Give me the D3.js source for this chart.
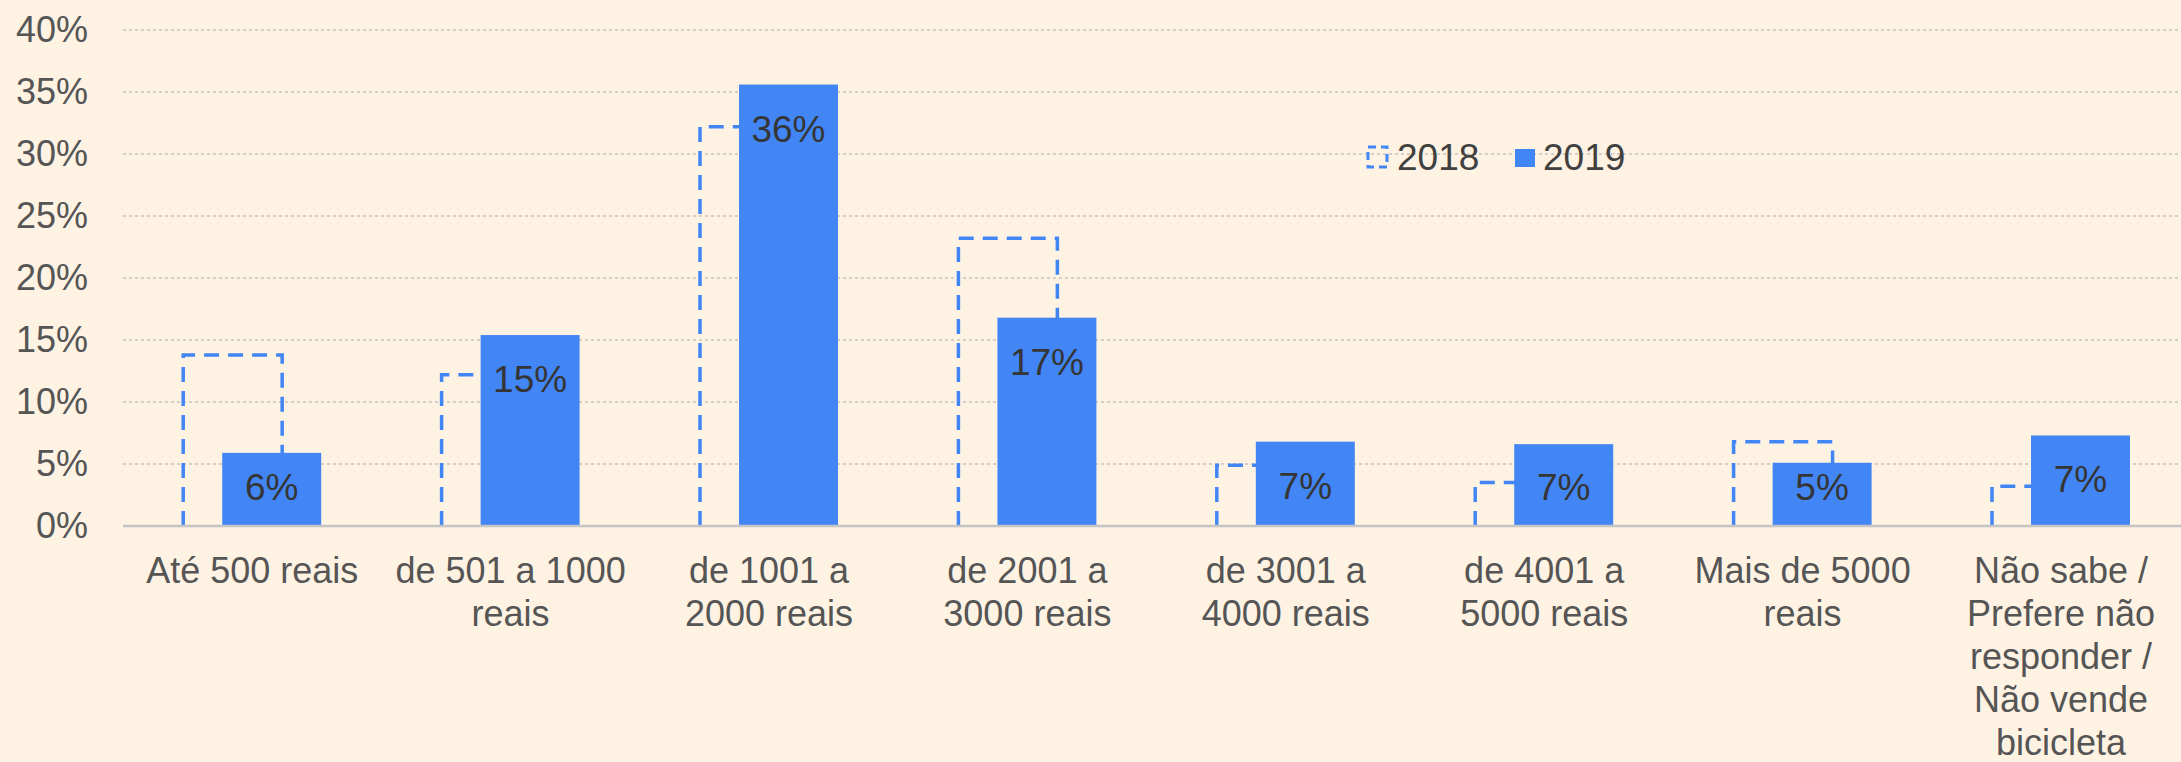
<!DOCTYPE html>
<html>
<head>
<meta charset="utf-8">
<script src="https://cdn.jsdelivr.net/npm/d3@7"></script>
<style>
  body { margin: 0; background: #fef2e3; }
  svg { display: block; font-family: "Liberation Sans", Arial, sans-serif; }
</style>
</head>
<body>
<div id="chart"></div>
<script>
// data
var categories = [
  "Até 500 reais",
  "de 501 a 1000\nreais",
  "de 1001 a\n2000 reais",
  "de 2001 a\n3000 reais",
  "de 3001 a\n4000 reais",
  "de 4001 a\n5000 reais",
  "Mais de 5000\nreais",
  "Não sabe /\nPrefere não\nresponder /\nNão vende\nbicicleta"
];
var values2018 = [0.138, 0.122, 0.322, 0.232, 0.049, 0.035, 0.068, 0.032];
var values2019 = [0.059, 0.154, 0.356, 0.168, 0.068, 0.066, 0.051, 0.073];
var seriesNames = ["2018", "2019"];
var yTicks = [0, 0.05, 0.10, 0.15, 0.20, 0.25, 0.30, 0.35, 0.40];

var W = 2181, H = 762;
var blue = "#4285f4";

var svg = d3.select("#chart")
            .append("svg")
            .attr("width", W)
            .attr("height", H)
            .style("background-color", "#fef2e3");

var x = d3.scaleBand()
          .domain(categories)
          .range([123, 123 + 8 * 258.4]);

var y = d3.scaleLinear()
          .domain([0, 0.40])
          .range([526, 30]);

var barW = x.bandwidth() * 0.383;
var shift = x.bandwidth() * 0.0755;
var cx = function(c) { return x(c) + x.bandwidth() / 2; };

//Gridlines
svg.append("g")
   .selectAll("line")
   .data(yTicks.slice(1))
   .join("line")
   .attr("x1", 123)
   .attr("x2", W)
   .attr("y1", d => y(d))
   .attr("y2", d => y(d))
   .attr("stroke", "#d2cec8")
   .attr("stroke-width", 2)
   .attr("stroke-dasharray", "3,3");

//Y tick labels
var yAxis = d3.axisLeft(y)
              .tickValues(yTicks)
              .tickFormat(d3.format(".0%"))
              .tickSize(0)
              .tickPadding(0);

var gy = svg.append("g")
            .attr("transform", "translate(88,0)")
            .call(yAxis);
gy.select(".domain").remove();
gy.selectAll("text")
  .attr("font-size", 36)
  .attr("fill", "#555555")
  .attr("font-family", "Liberation Sans, Arial, sans-serif");

//2018 dashed outlines
svg.append("g")
   .selectAll("path")
   .data(categories)
   .join("path")
   .attr("d", (c, i) => {
      var l = cx(c) - shift - barW / 2, r = l + barW;
      return "M" + l + "," + y(0) + "V" + y(values2018[i]) + "H" + r + "V" + y(0);
   })
   .attr("fill", "none")
   .attr("stroke", blue)
   .attr("stroke-width", 3.5)
   .attr("stroke-dasharray", "15,9");

//2019 bars
svg.append("g")
   .selectAll("rect")
   .data(categories)
   .join("rect")
   .attr("x", c => cx(c) + shift - barW / 2)
   .attr("y", (c, i) => y(values2019[i]))
   .attr("width", barW)
   .attr("height", (c, i) => y(0) - y(values2019[i]))
   .attr("fill", blue);

//Baseline
svg.append("line")
   .attr("x1", 123)
   .attr("x2", W)
   .attr("y1", y(0))
   .attr("y2", y(0))
   .attr("stroke", "#c4c4c4")
   .attr("stroke-width", 2.5);

//Data labels (2019)
svg.append("g")
   .selectAll("text")
   .data(categories)
   .join("text")
   .attr("x", c => cx(c) + shift)
   .attr("y", (c, i) => Math.min(y(values2019[i]) + 44, y(0) - 38.5))
   .attr("dy", "0.35em")
   .attr("text-anchor", "middle")
   .attr("font-size", 37)
   .attr("fill", "#353535")
   .text((c, i) => d3.format(".0%")(values2019[i]));

//Category labels
var cat = svg.append("g")
             .selectAll("text")
             .data(categories)
             .join("text")
             .attr("text-anchor", "middle")
             .attr("font-size", 36)
             .attr("fill", "#555555");

cat.selectAll("tspan")
   .data(c => c.split("\n").map(t => ({ t: t, c: c })))
   .join("tspan")
   .attr("x", d => cx(d.c))
   .attr("y", (d, i) => 583 + i * 43)
   .text(d => d.t);

//Legend
var legend = svg.append("g");

legend.append("rect")
      .attr("x", 1368)
      .attr("y", 147)
      .attr("width", 19)
      .attr("height", 20)
      .attr("fill", "none")
      .attr("stroke", blue)
      .attr("stroke-width", 3)
      .attr("stroke-dasharray", "8,5");

legend.append("text")
      .attr("x", 1397)
      .attr("y", 157)
      .attr("dy", "0.35em")
      .attr("font-size", 37)
      .attr("fill", "#404040")
      .text(seriesNames[0]);

legend.append("rect")
      .attr("x", 1515)
      .attr("y", 149)
      .attr("width", 20)
      .attr("height", 18)
      .attr("fill", blue);

legend.append("text")
      .attr("x", 1543)
      .attr("y", 157)
      .attr("dy", "0.35em")
      .attr("font-size", 37)
      .attr("fill", "#404040")
      .text(seriesNames[1]);
</script>
</body>
</html>
